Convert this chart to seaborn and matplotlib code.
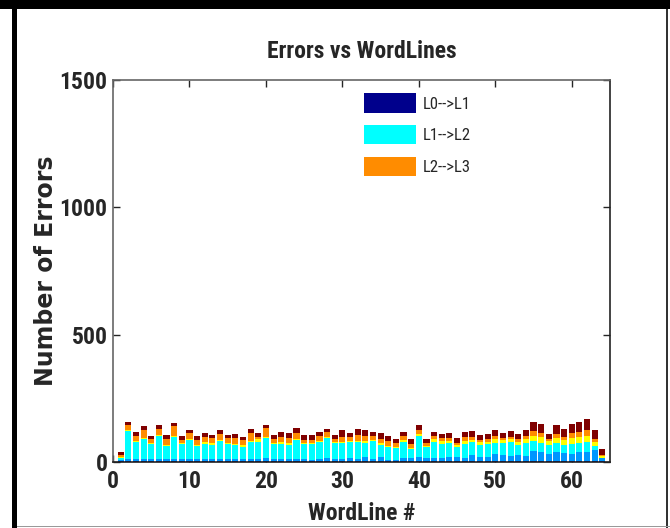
import numpy as np
import pandas as pd
import matplotlib
matplotlib.use("Agg")
import matplotlib.pyplot as plt
from matplotlib import font_manager
from matplotlib.patches import Rectangle, Patch
import seaborn as sns

# ---------------- data ----------------
wordlines = list(range(1, 65))
# per-bar layer values (bottom -> top)
lvl_a = [2] * 64  # dark blue
lvl_b = [4, 8, 8, 8, 8, 8, 8, 10, 8, 8, 8, 10, 8, 10, 8, 10, 8, 10, 8, 14,
         8, 10, 10, 10, 10, 6, 10, 14, 10, 10, 12, 10, 18, 10, 18, 6, 6, 14, 14, 16,
         12, 14, 12, 16, 16, 12, 24, 16, 16, 28, 24, 22, 24, 22, 40, 36, 28, 36, 32, 30,
         36, 36, 46, 12]  # blue
lvl_c = [10, 110, 70, 80, 62, 92, 54, 86, 60, 76, 52, 60, 58, 70, 60, 54, 50, 68, 70, 80,
         60, 60, 56, 74, 58, 62, 66, 78, 62, 64, 64, 66, 56, 70, 48, 50, 46, 64, 34, 84,
         44, 64, 56, 56, 40, 58, 52, 48, 52, 46, 48, 54, 40, 50, 42, 38, 38, 36, 34, 40,
         38, 42, 14, 0]  # cyan
lvl_d = [4, 4, 4, 4, 4, 3, 4, 4, 4, 4, 4, 5, 5, 5, 4, 4, 5, 4, 10, 4,
         4, 6, 6, 4, 4, 4, 4, 6, 4, 4, 4, 6, 8, 4, 6, 6, 6, 6, 6, 6,
         6, 10, 12, 8, 8, 12, 10, 12, 10, 14, 12, 12, 14, 16, 20, 22, 14, 20, 18, 22,
         24, 22, 18, 8]  # yellow
lvl_e = [6, 22, 18, 32, 16, 24, 22, 38, 14, 22, 20, 20, 20, 24, 20, 26, 22, 30, 10, 32,
         18, 22, 22, 24, 12, 12, 20, 16, 14, 20, 16, 22, 20, 16, 18, 18, 16, 16, 16, 18,
         12, 14, 12, 14, 10, 14, 12, 10, 10, 12, 10, 10, 12, 14, 18, 16, 10, 16, 14, 18,
         18, 24, 10, 6]  # orange
lvl_f = [12, 11, 16, 14, 10, 16, 16, 13, 14, 15, 16, 17, 12, 16, 12, 14, 10, 17, 14, 12,
         14, 18, 18, 20, 19, 19, 16, 15, 13, 26, 15, 24, 22, 15, 21, 20, 16, 16, 20, 18,
         14, 14, 16, 18, 17, 20, 22, 17, 20, 25, 18, 22, 18, 23, 35, 35, 18, 34, 31, 36,
         38, 43, 36, 22]  # dark red

layer_names = ["L0-->L1", "L1-->L2a", "L1-->L2", "L2-->L3a", "L2-->L3", "L3"]
layer_vals = [lvl_a, lvl_b, lvl_c, lvl_d, lvl_e, lvl_f]
layer_colors = ["#00008C", "#0096FF", "#00FFFF", "#FFFF00", "#FF8C00", "#800000"]

y_ticks = [0, 500, 1000, 1500]
x_ticks = [0, 10, 20, 30, 40, 50, 60]
legend_labels = ["L0-->L1", "L1-->L2", "L2-->L3"]
legend_colors = ["#00008C", "#00FFFF", "#FF8C00"]

# ---------------- fonts ----------------
sns.set_style("ticks")
avail = {f.name for f in font_manager.fontManager.ttflist}
narrow = "Liberation Sans"
for cand in ["Liberation Sans Narrow", "Arial Narrow", "Roboto Condensed",
             "Archivo Narrow", "PT Sans Narrow", "Open Sans Condensed",
             "Barlow Semi Condensed", "Asap Condensed"]:
    if cand in avail:
        narrow = cand
        break
plt.rcParams["font.family"] = [narrow, "Liberation Sans", "DejaVu Sans"]

df = pd.DataFrame({"wl": wordlines})
for n, v in zip(layer_names, layer_vals):
    df[n] = v
cum = df[layer_names].cumsum(axis=1)
cum["wl"] = df["wl"]

fig = plt.figure(figsize=(6.7, 5.28), dpi=100)
fig.patch.set_facecolor("white")
ax = fig.add_axes([113 / 670, 66 / 528, 497 / 670, 382 / 528])

# draw from the top layer down so lower layers overlay
for i in range(len(layer_names) - 1, -1, -1):
    sns.barplot(data=cum, x="wl", y=layer_names[i],
                color=layer_colors[i], saturation=1, native_scale=True,
                width=0.8, linewidth=0, errorbar=None, ax=ax)

ax.set_xlim(0, 65)
ax.set_ylim(0, 1500)
ax.set_xticks(x_ticks)
ax.set_yticks(y_ticks)
ax.set_xticklabels([str(t) for t in x_ticks], fontsize=17, fontweight="bold")
ax.set_yticklabels([str(t) for t in y_ticks], fontsize=17, fontweight="bold")
ax.tick_params(axis="both", direction="in", length=5, width=1, top=True, right=True)
ax.tick_params(axis="x", pad=6)
ax.tick_params(axis="y", pad=4)

for s in ["left", "top"]:
    ax.spines[s].set_color("#666666")
for s in ["right", "bottom"]:
    ax.spines[s].set_color("#222222")
for s in ax.spines.values():
    s.set_linewidth(1.2)

ax.set_title("Errors vs WordLines", fontsize=17, fontweight="bold", pad=16)
ax.set_xlabel("WordLine #", fontsize=17, fontweight="bold", labelpad=6)
ax.set_ylabel("Number of Errors", fontsize=17, fontweight="bold",
              family=["DejaVu Sans"], labelpad=1)

handles = [Patch(facecolor=c, edgecolor="none") for c in legend_colors]
ax.legend(handles, legend_labels, loc="upper left", bbox_to_anchor=(0.505, 0.965),
          frameon=False, prop={"size": 12}, handlelength=3.1, handleheight=1.4,
          labelspacing=0.75, handletextpad=0.4, borderpad=0, borderaxespad=0)

# window frame
fig.add_artist(Rectangle((0, 1 - 9 / 528), 1, 9 / 528, transform=fig.transFigure,
                         facecolor="black", edgecolor="none"))
fig.add_artist(Rectangle((12 / 670, 0), 5 / 670, 1 - 9 / 528, transform=fig.transFigure,
                         facecolor="black", edgecolor="none"))
fig.add_artist(Rectangle((666 / 670, 0), 1.5 / 670, 1 - 9 / 528, transform=fig.transFigure,
                         facecolor="#333333", edgecolor="none"))
fig.add_artist(Rectangle((17 / 670, 1 / 528), 653 / 670, 1.5 / 528, transform=fig.transFigure,
                         facecolor="#999999", edgecolor="none"))

fig.savefig("out.png", dpi=100)
